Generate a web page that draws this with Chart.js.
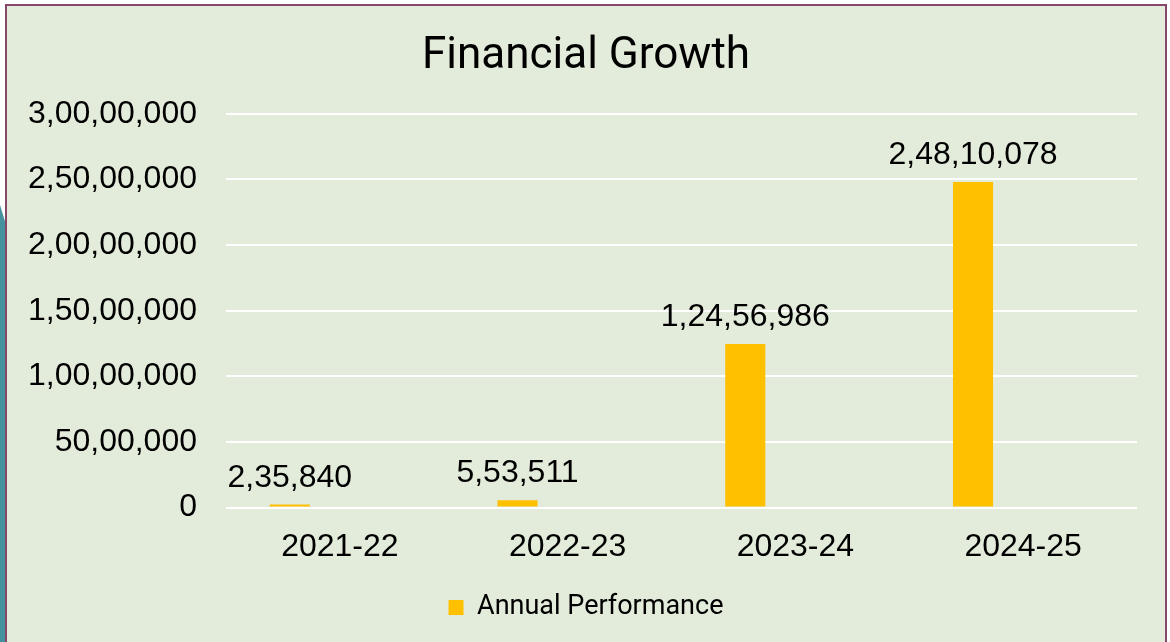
<!DOCTYPE html>
<html>
<head>
<meta charset="utf-8">
<title>Financial Growth</title>
<script src="https://cdn.jsdelivr.net/npm/chart.js@4.4.1/dist/chart.umd.min.js"></script>
<style>
  html, body { margin: 0; padding: 0; background: #fff; }
  body { width: 1170px; height: 642px; position: relative; overflow: hidden; }
  .edge {
    position: absolute; left: 0; top: 0; width: 7px; height: 642px;
    background: #45929f;
    clip-path: polygon(0 205px, 7px 228px, 7px 100%, 0 100%);
  }
  .box {
    position: absolute; left: 5px; top: 4px; width: 1158px; height: 638px;
    border: 2px solid #86476a; border-bottom: none;
    background: #e3ebda;
  }
</style>
</head>
<body>
<div class="edge"></div>
<div class="box"><canvas id="growthChart"></canvas></div>
<script>
const years = ["2021-22", "2022-23", "2023-24", "2024-25"];
const annualPerformance = [235840, 553511, 12456986, 24810078];
const emptySeries = [null, null, null, null]; // second (empty) series keeps the bars shifted left
const yTickStep = 5000000;
const yMax = 30000000;

// indian digit grouping: 2,48,10,078
function inr(n) {
    const s = String(Math.round(n));
    if (s.length <= 3) return s;
    const last3 = s.slice(-3);
    const rest = s.slice(0, -3).replace(/\B(?=(\d{2})+(?!\d))/g, ",");
    return rest + "," + last3;
}

const valueLabels = {
    id: "valueLabels",
    afterDatasetsDraw(chart) {
        const ctx = chart.ctx;
        const meta = chart.getDatasetMeta(0);
        ctx.save();
        ctx.font = "32px 'Liberation Sans', Arial, sans-serif";
        ctx.fillStyle = "#000";
        ctx.textAlign = "center";
        ctx.textBaseline = "alphabetic";
        meta.data.forEach((bar, i) => {
            ctx.fillText(inr(annualPerformance[i]), bar.x, bar.y - 18);
        });
        ctx.restore();
    }
};

Chart.defaults.font.family = "'Liberation Sans', Arial, sans-serif";
Chart.defaults.color = "#000";

new Chart(document.getElementById("growthChart"), {
    type: "bar",
    data: {
        labels: years,
        datasets: [
            { label: "Annual Performance", data: annualPerformance, backgroundColor: "#ffc000",
              categoryPercentage: 0.88, barPercentage: 0.4 },
            { label: "", data: emptySeries, backgroundColor: "#a5a5a5",
              categoryPercentage: 0.88, barPercentage: 0.4 }
        ]
    },
    options: {
        responsive: true,
        maintainAspectRatio: false,
        animation: false,
        layout: { padding: { left: 0, right: 0, top: 0, bottom: 13 } },
        plugins: {
            title: {
                display: true, text: "Financial Growth", color: "#000",
                font: { family: "Roboto", size: 44, weight: "normal", lineHeight: 1.2 },
                padding: { top: 25, bottom: 30 }
            },
            legend: {
                position: "bottom",
                labels: {
                    boxWidth: 15, boxHeight: 15, padding: 8, color: "#000",
                    font: { family: "Roboto", size: 27 },
                    filter: item => item.datasetIndex === 0
                }
            },
            tooltip: { enabled: false }
        },
        scales: {
            x: {
                grid: { display: false, drawTicks: false },
                border: { display: false },
                ticks: { padding: 20, font: { size: 32 } }
            },
            y: {
                min: 0, max: yMax,
                afterFit(scale) { scale.width = 219; },
                grid: { color: "#ffffff", lineWidth: 2, drawTicks: false },
                border: { display: false },
                ticks: { stepSize: yTickStep, padding: 29, font: { size: 32 }, callback: v => inr(v) }
            },
            // empty right margin beside the plot
            yRight: {
                position: "right",
                afterFit(scale) { scale.width = 28; },
                grid: { display: false, drawTicks: false },
                border: { display: false },
                ticks: { display: false }
            }
        }
    },
    plugins: [valueLabels]
});
</script>
</body>
</html>
